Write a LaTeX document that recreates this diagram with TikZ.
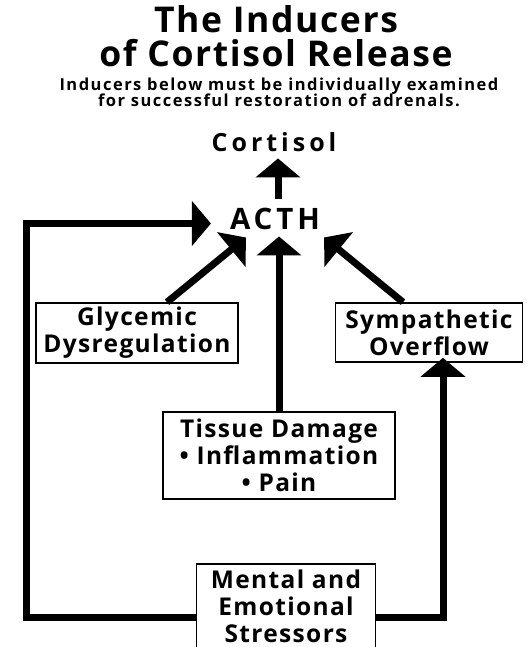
\documentclass[tikz,border=0pt]{standalone}
\usepackage{fontspec}
\setmainfont{Open Sans}
\newfontfamily\titlefont{Open Sans}[LetterSpace=4.5]
\newfontfamily\subfont{Open Sans}[LetterSpace=9]
\newfontfamily\boxfont{Open Sans}[LetterSpace=5.5]
\newfontfamily\cortfont{Open Sans}[LetterSpace=16]
\newfontfamily\acthfont{Open Sans}[LetterSpace=13]
\usetikzlibrary{arrows.meta}
\begin{document}
\begin{tikzpicture}[x=1pt,y=-1pt,
  txt/.style={inner sep=0pt, anchor=base},
  box/.style={draw, line width=1.6pt, inner sep=0pt, align=center,
    font=\boxfont\bfseries\fontsize{24.5}{27}\selectfont},
  conn/.style={line width=7pt, line join=miter, -{Triangle[length=19pt,width=44pt]}}]
\fill[white] (0,0) rectangle (532,647);
\useasboundingbox (0,0) rectangle (532,647);
% titles
\node[txt, font=\titlefont\bfseries\fontsize{35.5}{38}\selectfont] (t1) at (276,33) {The Inducers};
\node[txt, font=\titlefont\bfseries\fontsize{35.5}{38}\selectfont] (t2) at (276,67) {of Cortisol Release};
\node[txt, font=\subfont\bfseries\fontsize{16.5}{18}\selectfont] (s1) at (279,91) {Inducers below must be individually examined};
\node[txt, font=\subfont\bfseries\fontsize{16.5}{18}\selectfont] (s2) at (279,107) {for successful restoration of adrenals.};
% hormones
\node[txt, font=\cortfont\bfseries\fontsize{25}{28}\selectfont] (cort) at (274,152) {Cortisol};
\node[txt, font=\acthfont\bfseries\fontsize{29.5}{32}\selectfont] (acth) at (275,229) {ACTH};
% boxes
\node[box, minimum width=202pt, minimum height=60pt] (glyc) at (137,333) {Glycemic\\Dysregulation};
\node[box, minimum width=187pt, minimum height=59pt] (symp) at (429,332.5) {Sympathetic\\Overflow};
\node[box, minimum width=232pt, minimum height=87pt] (tissue) at (279,455.5) {Tissue Damage\\• Inflammation\\• Pain};
\node[box, minimum width=179pt, minimum height=85pt] (mental) at (286,606.5) {Mental and\\Emotional\\Stressors};
% connectors
\coordinate (lc) at (26.5,223.5);
\coordinate (ltip) at ([xshift=-19pt]acth.west);
\coordinate (mtip) at ([yshift=-7pt]acth.south);
\draw[conn] ([xshift=3pt,yshift=8pt]acth.north) -- ([xshift=4pt,yshift=-6pt]cort.south);
\draw[conn] (tissue.north) -- (tissue.north |- mtip);
\draw[conn] ([xshift=30pt]glyc.north) -- ([xshift=16pt,yshift=-8pt]acth.south west);
\draw[conn] ([xshift=-26pt]symp.north) -- ([xshift=4pt,yshift=-8pt]acth.south east);
\draw[conn] ([yshift=-11pt]mental.west) -| (lc) -- (lc -| ltip);
\draw[conn] ([yshift=-11pt]mental.east) -| ([xshift=14pt,yshift=5pt]symp.south);
\end{tikzpicture}
\end{document}
